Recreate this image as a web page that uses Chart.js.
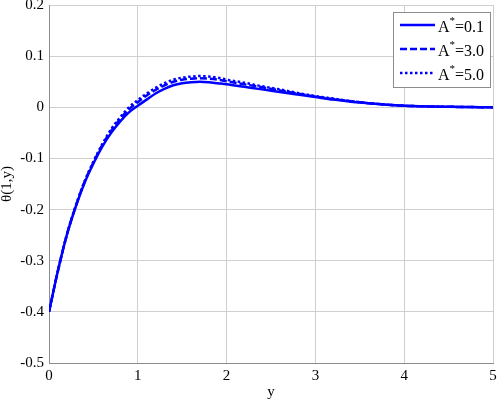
<!DOCTYPE html>
<html><head><meta charset="utf-8">
<script src="https://cdn.jsdelivr.net/npm/chart.js@4/dist/chart.umd.min.js"></script>
<style>html,body{margin:0;padding:0;background:#fff}#wrap{width:498px;height:401px;position:relative}</style>
</head><body><div id="wrap"><canvas id="c" width="498" height="401"></canvas></div>
<script>
const xs      = [0,0.1,0.2,0.3,0.4,0.5,0.6,0.7,0.8,0.9,1.0,1.1,1.2,1.3,1.4,1.5,1.6,1.7,1.8,1.9,2.0,2.2,2.4,2.6,2.8,3.0,3.2,3.4,3.6,3.8,4.0,4.5,5.0];
const thetaA01 = [-0.4,-0.32,-0.25,-0.195,-0.148,-0.11,-0.077,-0.05,-0.028,-0.01,0.003,0.015,0.027,0.036,0.043,0.047,0.049,0.05,0.049,0.047,0.045,0.04,0.035,0.03,0.025,0.02,0.015,0.011,0.008,0.005,0.003,0.001,0];
const thetaA30 = [-0.4,-0.32,-0.25,-0.194,-0.146,-0.108,-0.074,-0.046,-0.023,-0.004,0.01,0.023,0.034,0.043,0.05,0.054,0.056,0.057,0.056,0.054,0.051,0.045,0.039,0.033,0.027,0.021,0.016,0.012,0.008,0.005,0.003,0.001,0];
const thetaA50 = [-0.4,-0.32,-0.25,-0.193,-0.145,-0.106,-0.072,-0.043,-0.02,0.0,0.014,0.027,0.038,0.047,0.054,0.058,0.06,0.061,0.06,0.058,0.054,0.048,0.041,0.035,0.028,0.022,0.017,0.012,0.008,0.005,0.003,0.001,0];
const seriesNames = ['0.1','3.0','5.0'];
const xTicks = [0,1,2,3,4,5];
const yTicks = [-0.5,-0.4,-0.3,-0.2,-0.1,0,0.1,0.2];

const FONT = '"Liberation Serif","Times New Roman",serif';
const toPts = arr => xs.map((x,i)=>({x:x,y:arr[i]}));

const legendPlugin = {
  id:'boxLegend',
  afterDraw(chart){
    const ctx = chart.ctx;
    const bx=393, by=12, bw=97, bh=75;
    ctx.save();
    ctx.fillStyle='#fff';
    ctx.fillRect(bx,by,bw,bh);
    ctx.strokeStyle='#8c8c8c'; ctx.lineWidth=1;
    ctx.strokeRect(bx+0.5,by+0.5,bw,bh);
    chart.data.datasets.forEach((ds,i)=>{
      const y = by+13+i*24;
      ctx.strokeStyle=ds.borderColor; ctx.lineWidth=ds.borderWidth;
      ctx.setLineDash(ds.borderDash||[]);
      ctx.beginPath(); ctx.moveTo(400,y); ctx.lineTo(435,y); ctx.stroke();
      ctx.setLineDash([]);
      ctx.fillStyle='#000'; ctx.textBaseline='alphabetic';
      ctx.font='16px '+FONT;
      ctx.fillText('A',438,y+7);
      const wA = ctx.measureText('A').width;
      ctx.font='11px '+FONT;
      ctx.fillText('*',438+wA,y-1);
      const wS = ctx.measureText('*').width;
      ctx.font='16px '+FONT;
      ctx.fillText('='+seriesNames[i],438+wA+wS,y+7);
    });
    ctx.restore();
  }
};

new Chart(document.getElementById('c'),{
  type:'line',
  data:{datasets:[
    {label:'A*=0.1',data:toPts(thetaA01),borderColor:'#0000ff',borderWidth:2.5,pointRadius:0,cubicInterpolationMode:'monotone'},
    {label:'A*=3.0',data:toPts(thetaA30),borderColor:'#0000ff',borderWidth:2.5,borderDash:[7,3],pointRadius:0,cubicInterpolationMode:'monotone'},
    {label:'A*=5.0',data:toPts(thetaA50),borderColor:'#0000ff',borderWidth:2.5,borderDash:[2.5,2.5],pointRadius:0,cubicInterpolationMode:'monotone'}
  ]},
  options:{
    responsive:false,animation:false,
    layout:{padding:{top:5,right:5,left:0,bottom:0}},
    plugins:{legend:{display:false},tooltip:{enabled:false}},
    scales:{
      x:{type:'linear',min:0,max:5,
        afterBuildTicks(s){s.ticks=xTicks.map(v=>({value:v}));},
        afterFit(s){s.height=38;s.paddingLeft=0;s.paddingRight=0;},
        grid:{color:'#cfcfcf',drawTicks:false},
        border:{color:'#8c8c8c'},
        ticks:{padding:4,color:'#000',font:{family:FONT,size:15}},
        title:{display:true,text:'y',color:'#000',font:{family:FONT,size:15},padding:{top:0,bottom:0}}
      },
      y:{type:'linear',min:-0.5,max:0.2,
        afterBuildTicks(s){s.ticks=yTicks.map(v=>({value:v}));},
        afterFit(s){s.width=49;s.paddingTop=0;s.paddingBottom=0;},
        grid:{color:'#cfcfcf',drawTicks:false},
        border:{color:'#8c8c8c'},
        ticks:{padding:5,color:'#000',font:{family:FONT,size:15},callback:v=>String(Math.round(v*10)/10)},
        title:{display:true,text:'θ(1,y)',color:'#000',font:{family:FONT,size:15},padding:{top:-2,bottom:2}}
      }
    }
  },
  plugins:[legendPlugin]
});
</script></body></html>
